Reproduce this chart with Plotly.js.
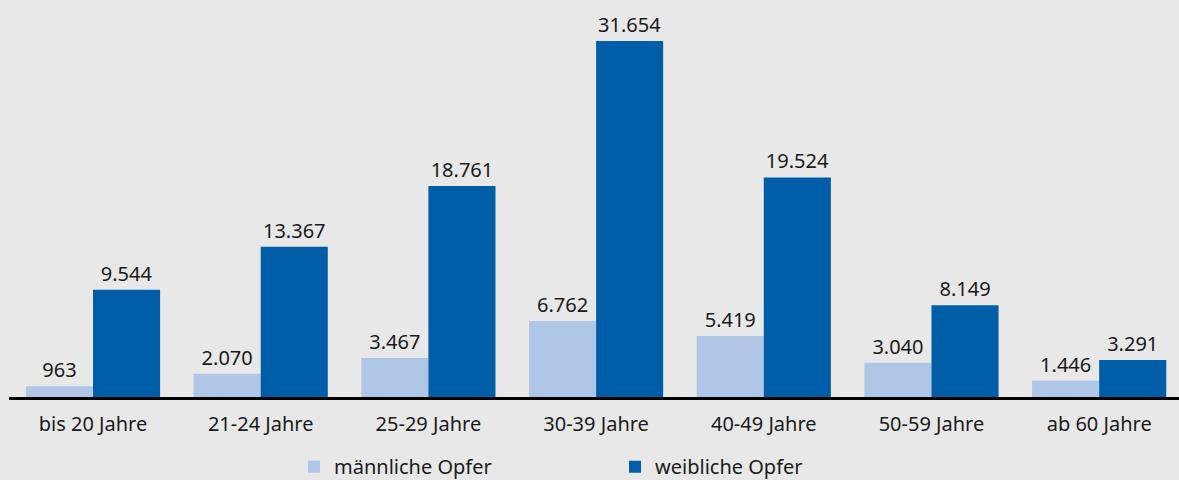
<!DOCTYPE html>
<html>
<head>
<meta charset="utf-8">
<script src="https://cdn.plot.ly/plotly-3.0.1.min.js"></script>
<style>html,body{margin:0;padding:0;background:#e8e8e8;}#chart{width:1179px;height:480px;}</style>
</head>
<body>
<div id="chart"></div>
<script>
const categories = ["bis 20 Jahre","21-24 Jahre","25-29 Jahre","30-39 Jahre","40-49 Jahre","50-59 Jahre","ab 60 Jahre"];
const maleValues = [963, 2070, 3467, 6762, 5419, 3040, 1446];
const femaleValues = [9544, 13367, 18761, 31654, 19524, 8149, 3291];
const seriesNames = ["männliche Opfer", "weibliche Opfer"];

function fmt(v){ return v.toString().replace(/\B(?=(\d{3})+(?!\d))/g, "."); }

const font = {family: "Noto Sans, Open Sans, sans-serif", size: 20, color: "#1a1a1a"};

const traces = [
  {type:"bar", name: seriesNames[0], x: categories, y: maleValues,
   marker:{color:"#afc6e6"}, text: maleValues.map(fmt), textposition:"outside",
   textfont: font, cliponaxis:false, hoverinfo:"none"},
  {type:"bar", name: seriesNames[1], x: categories, y: femaleValues,
   marker:{color:"#005ea8"}, text: femaleValues.map(fmt), textposition:"outside",
   textfont: font, cliponaxis:false, hoverinfo:"none"}
];

const layout = {
  width:1179, height:480,
  paper_bgcolor:"#e8e8e8", plot_bgcolor:"#e8e8e8",
  margin:{l:9, r:0, t:20, b:83, autoexpand:false},
  barmode:"group", bargap:0.2, bargroupgap:0,
  font: font,
  xaxis:{type:"category", range:[-0.501, 6.476], showline:true, linecolor:"#000", linewidth:2.5,
         ticks:"outside", ticklen:7, tickcolor:"rgba(0,0,0,0)", tickfont:font, showgrid:false, zeroline:false, fixedrange:true},
  yaxis:{range:[0, 33520], visible:false, showgrid:false, zeroline:false, fixedrange:true},
  showlegend:true,
  legend:{orientation:"h", x:0.2436, xanchor:"left", y:-0.133, yanchor:"top", font:font,
          entrywidth:276, entrywidthmode:"pixels", bgcolor:"rgba(0,0,0,0)"},
  uniformtext:{mode:false}
};

Plotly.newPlot("chart", traces, layout, {displayModeBar:false, staticPlot:true});
</script>
</body>
</html>
